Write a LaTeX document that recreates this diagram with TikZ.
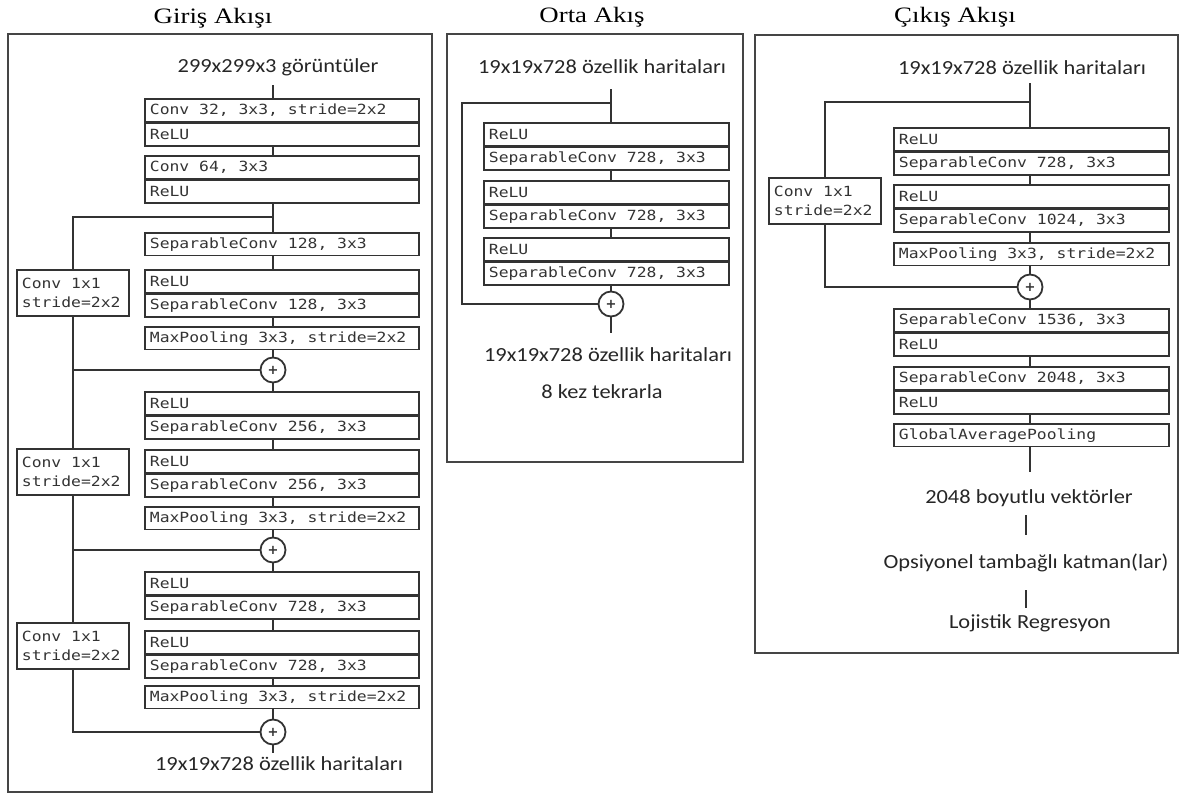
\documentclass[tikz,border=0pt]{standalone}
\usepackage{fontspec}
\newfontfamily\titlef[FakeStretch=1.22]{Liberation Serif}
\newfontfamily\labelf[FakeStretch=1.12]{Carlito}
\newfontfamily\monof[FakeStretch=1.17]{DejaVu Sans Mono}
\newfontfamily\plusf{DejaVu Sans}
% monospaced layer text: word spaces as wide as the stretched glyphs
\newcommand\monospaces{\frenchspacing\spaceskip=9.86pt\relax\xspaceskip=9.86pt\relax}
\newcommand\labelfont{\labelf\fontsize{20}{22}\selectfont\spaceskip=5.1pt\relax}
\definecolor{ln}{HTML}{333333}
\definecolor{frame}{HTML}{454545}
\definecolor{txt}{HTML}{333333}
\begin{document}
\begin{tikzpicture}[x=1pt,y=-1pt,
  conn/.style={draw=ln, line width=1.9pt},
  panel/.style={draw=frame, line width=1.6pt},
  title/.style={font=\titlef\fontsize{22}{24}\selectfont, text=black, inner sep=0pt},
  lbl/.style={font=\labelfont, text=black!85, inner sep=0pt, text height=14pt, text depth=4pt},
  layer/.style={draw=ln, line width=1.8pt, minimum height=22.5pt, inner xsep=5pt, inner ysep=0pt,
    anchor=north west, text width=#1, align=left, font=\monof\fontsize{14}{16}\selectfont,
    execute at begin node=\monospaces, text=txt},
  shortcut/.style={draw=ln, line width=1.8pt, minimum height=46pt, inner xsep=5pt, inner ysep=0pt,
    anchor=north west, text width=102pt, align=left, font=\monof\fontsize{14}{19}\selectfont,
    execute at begin node=\monospaces, text=txt},
  adder/.style={circle, draw=ln, line width=1.8pt, minimum size=25pt, inner sep=0pt,
    font=\plusf\bfseries\fontsize{13}{13}\selectfont, text=ln}
]
\useasboundingbox (0,0) rectangle (1180,795);

% ---------------- panels and titles ----------------
\draw[panel] (8,34) rectangle (432,792);
\draw[panel] (447,34) rectangle (743,462);
\draw[panel] (755,35) rectangle (1178,653);
\node[title] (tIn)  at (213,18) {Giriş Akışı};
\node[title] (tMid) at (592,17) {Orta Akış};
\node[title] (tOut) at (955,17) {Çıkış Akışı};

% ---------------- entry flow ----------------
\node[lbl] (inL) at (278,67) {299x299x3 görüntüler};
\node[layer=264pt] (L1a) at (144,98) {Conv 32, 3x3, stride=2x2};
\node[layer=264pt] (L1b) at (L1a.south west) {ReLU};
\node[layer=264pt] (L2a) at (144,155) {Conv 64, 3x3};
\node[layer=264pt] (L2b) at (L2a.south west) {ReLU};
\node[layer=264pt] (L3)  at (144,232) {SeparableConv 128, 3x3};
\node[layer=264pt] (L4a) at (144,269) {ReLU};
\node[layer=264pt] (L4b) at (L4a.south west) {SeparableConv 128, 3x3};
\node[layer=264pt] (L5)  at (144,326) {MaxPooling 3x3, stride=2x2};
\node[adder] (p1) at (273,370) {+};
\node[layer=264pt] (L6a) at (144,391) {ReLU};
\node[layer=264pt] (L6b) at (L6a.south west) {SeparableConv 256, 3x3};
\node[layer=264pt] (L7a) at (144,449) {ReLU};
\node[layer=264pt] (L7b) at (L7a.south west) {SeparableConv 256, 3x3};
\node[layer=264pt] (L8)  at (144,506) {MaxPooling 3x3, stride=2x2};
\node[adder] (p2) at (273,550) {+};
\node[layer=264pt] (L9a) at (144,571) {ReLU};
\node[layer=264pt] (L9b) at (L9a.south west) {SeparableConv 728, 3x3};
\node[layer=264pt] (L10a) at (144,630) {ReLU};
\node[layer=264pt] (L10b) at (L10a.south west) {SeparableConv 728, 3x3};
\node[layer=264pt] (L11) at (144,685) {MaxPooling 3x3, stride=2x2};
\node[adder] (p3) at (273,732) {+};
\node[lbl] (outL) at (279,765) {19x19x728 özellik haritaları};
\node[shortcut] (C1) at (16,269) {Conv 1x1\\stride=2x2};
\node[shortcut] (C2) at (16,448) {Conv 1x1\\stride=2x2};
\node[shortcut] (C3) at (16,622) {Conv 1x1\\stride=2x2};

\coordinate (sL) at (273,85);
\coordinate (bL) at (273,217);
\coordinate (eL) at (273,753);
\draw[conn] (sL) -- (L1a.north -| sL);
\draw[conn] (L1b.south -| sL) -- (L2a.north -| sL);
\draw[conn] (L2b.south -| sL) -- (L3.north -| sL);
\draw[conn] (bL) -| (C1.north);
\draw[conn] (L3.south -| sL) -- (L4a.north -| sL);
\draw[conn] (L4b.south -| sL) -- (L5.north -| sL);
\draw[conn] (L5.south -| sL) -- (p1.north);
\draw[conn] (C1.south) -- (C2.north);
\draw[conn] (C1.south) |- (p1.west);
\draw[conn] (p1.south) -- (L6a.north -| p1);
\draw[conn] (L6b.south -| p1) -- (L7a.north -| p1);
\draw[conn] (L7b.south -| p1) -- (L8.north -| p1);
\draw[conn] (L8.south -| p1) -- (p2.north);
\draw[conn] (C2.south) -- (C3.north);
\draw[conn] (C2.south) |- (p2.west);
\draw[conn] (p2.south) -- (L9a.north -| p2);
\draw[conn] (L9b.south -| p2) -- (L10a.north -| p2);
\draw[conn] (L10b.south -| p2) -- (L11.north -| p2);
\draw[conn] (L11.south -| p2) -- (p3.north);
\draw[conn, line width=2.6pt] (C3.south) |- (p3.west);
\draw[conn] (p3.south) -- (eL);

% ---------------- middle flow ----------------
\node[lbl] (inM) at (602,68) {19x19x728 özellik haritaları};
\node[layer=235pt] (M1a) at (483,122) {ReLU};
\node[layer=235pt] (M1b) at (M1a.south west) {SeparableConv 728, 3x3};
\node[layer=235pt] (M2a) at (483,180) {ReLU};
\node[layer=235pt] (M2b) at (M2a.south west) {SeparableConv 728, 3x3};
\node[layer=235pt] (M3a) at (483,237) {ReLU};
\node[layer=235pt] (M3b) at (M3a.south west) {SeparableConv 728, 3x3};
\node[adder] (pM) at (611,304) {+};
\node[lbl] (outM) at (608,356) {19x19x728 özellik haritaları};
\node[lbl] (rep) at (602,393) {8 kez tekrarla};

\coordinate (sM) at (611,89);
\coordinate (bM) at (611,103);
\coordinate (kM) at (462,103);
\coordinate (eM) at (611,333);
\draw[conn] (sM) -- (M1a.north -| sM);
\draw[conn] (bM) -- (kM) |- (pM.west);
\draw[conn] (M1b.south -| sM) -- (M2a.north -| sM);
\draw[conn] (M2b.south -| sM) -- (M3a.north -| sM);
\draw[conn] (M3b.south -| sM) -- (pM.north);
\draw[conn] (pM.south) -- (eM);

% ---------------- exit flow ----------------
\node[lbl] (inR) at (1022,69) {19x19x728 özellik haritaları};
\node[layer=265pt] (R1a) at (893,127) {ReLU};
\node[layer=265pt] (R1b) at (R1a.south west) {SeparableConv 728, 3x3};
\node[layer=265pt] (R2a) at (893,184) {ReLU};
\node[layer=265pt] (R2b) at (R2a.south west) {SeparableConv 1024, 3x3};
\node[layer=265pt] (R3)  at (893,242) {MaxPooling 3x3, stride=2x2};
\node[adder] (pR) at (1030,287) {+};
\node[layer=265pt] (R4a) at (893,308) {SeparableConv 1536, 3x3};
\node[layer=265pt] (R4b) at (R4a.south west) {ReLU};
\node[layer=265pt] (R5a) at (893,366) {SeparableConv 2048, 3x3};
\node[layer=265pt] (R5b) at (R5a.south west) {ReLU};
\node[layer=265pt] (R6)  at (893,423) {GlobalAveragePooling};
\node[shortcut] (CR) at (768,177) {Conv 1x1\\stride=2x2};
\node[lbl] (vec) at (1029,498) {2048 boyutlu vektörler};
\node[lbl] (fc)  at (1026,563) {Opsiyonel tambağlı katman(lar)};
\node[lbl] (lr)  at (1030,623) {Lojistik Regresyon};

\coordinate (sR) at (1030,83);
\coordinate (bR) at (1030,102);
\coordinate (eR) at (1030,472);
\draw[conn] (sR) -- (R1a.north -| sR);
\draw[conn] (bR) -| (CR.north);
\draw[conn] (CR.south) |- (pR.west);
\draw[conn] (R1b.south -| sR) -- (R2a.north -| sR);
\draw[conn] (R2b.south -| sR) -- (R3.north -| sR);
\draw[conn] (R3.south -| sR) -- (pR.north);
\draw[conn] (pR.south) -- (R4a.north -| pR);
\draw[conn] (R4b.south -| pR) -- (R5a.north -| pR);
\draw[conn] (R5b.south -| pR) -- (R6.north -| pR);
\draw[conn] (R6.south -| pR) -- (eR);
\draw[conn, shorten <=8pt, shorten >=19pt] (vec.south -| fc) -- (fc.north);
\draw[conn, shorten <=18pt, shorten >=6pt] (fc.south) -- (lr.north -| fc);
\end{tikzpicture}
\end{document}
